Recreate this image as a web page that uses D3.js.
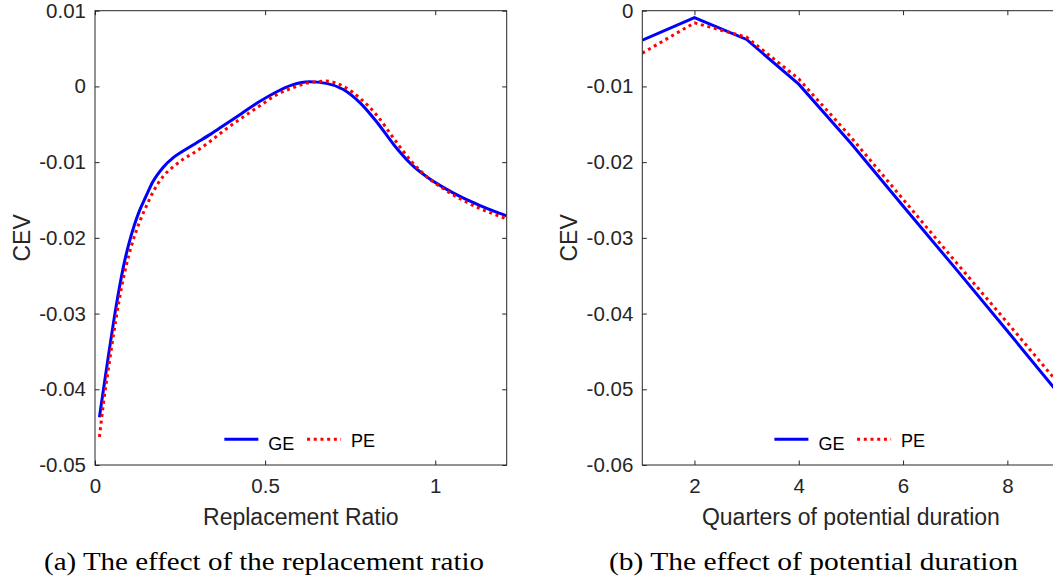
<!DOCTYPE html>
<html>
<head>
<meta charset="utf-8">
<script src="https://cdn.jsdelivr.net/npm/d3@7"></script>
<style>
  html, body { margin: 0; padding: 0; background: #fff; }
  svg { display: block; }
  .tick text { font-family: "Liberation Sans", Arial, Helvetica, sans-serif; fill: #262626; }
  .tick line { stroke: #262626; }
</style>
</head>
<body>
<div id="graphicContainer"></div>
<script>

// panel (a): replacement ratio
const replacementRatio = [0.013, 0.025, 0.04, 0.055, 0.07, 0.085, 0.1, 0.115, 0.13, 0.15, 0.17, 0.2, 0.23, 0.26, 0.3, 0.34, 0.38, 0.43, 0.48, 0.53, 0.58, 0.63, 0.68, 0.73, 0.78, 0.83, 0.88, 0.93, 0.98, 1.03, 1.08, 1.13, 1.18, 1.21]
const cevRatioGE = [-0.0437, -0.0400, -0.0354, -0.0310, -0.0270, -0.0235, -0.0207, -0.0184, -0.0165, -0.0145, -0.0126, -0.0107, -0.0094, -0.0085, -0.0074, -0.0063, -0.0051, -0.0036, -0.0021, -0.0008, 0.0002, 0.0006, 0.0004, -0.0004, -0.0022, -0.0048, -0.0078, -0.0103, -0.0121, -0.0135, -0.0147, -0.0157, -0.0166, -0.0171]
const cevRatioPE = [-0.0463, -0.0418, -0.0371, -0.0326, -0.0285, -0.0250, -0.0222, -0.0199, -0.0180, -0.0159, -0.0140, -0.0119, -0.0106, -0.0096, -0.0085, -0.0072, -0.0058, -0.0042, -0.0027, -0.0012, -0.0002, 0.0005, 0.0007, 0.0000, -0.0016, -0.0039, -0.0070, -0.0099, -0.0121, -0.0137, -0.0150, -0.0161, -0.0170, -0.0175]
const ratioXTicks = [0, 0.5, 1]
const ratioYTicks = [0.01, 0, -0.01, -0.02, -0.03, -0.04, -0.05]

// panel (b): potential duration
const quarters = [1, 2, 3, 4, 5, 6, 7, 8, 9]
const cevDurationGE = [-0.0039, -0.0009, -0.0038, -0.0097, -0.0175, -0.0258, -0.0340, -0.0423, -0.0507]
const cevDurationPE = [-0.0056, -0.0016, -0.0035, -0.0090, -0.0167, -0.0249, -0.0331, -0.0412, -0.0494]
const durationXTicks = [2, 4, 6, 8]
const durationYTicks = [0, -0.01, -0.02, -0.03, -0.04, -0.05, -0.06]

const seriesNames = ["GE", "PE"]
const seriesColors = ["#0000ff", "#ff0000"]
const seriesDash = [null, "3,3.7"]

const width = 1053
const height = 580
const axisColor = "#262626"

const svg = d3.select("#graphicContainer")
  .append("svg")
  .attr("width", width)
  .attr("height", height)

const tickFmt = d => String(d)

function drawPanel(opts) {

  let { id, left, right, top, bottom, xDomain, yDomain, xTicks, yTicks,
        xs, series, curve, xLabel, caption, captionX, captionWidth, yLabelX } = opts

  const x = d3.scaleLinear().domain(xDomain).range([left, right])
  const y = d3.scaleLinear().domain(yDomain).range([bottom, top])

  const g = svg.append("g")

  g.append("clipPath")
    .attr("id", "clip_" + id)
    .append("rect")
    .attr("x", left)
    .attr("y", top)
    .attr("width", right - left)
    .attr("height", bottom - top)

  // bottom + top axes
  g.append("g")
    .attr("transform", `translate(0,${bottom})`)
    .call(d3.axisBottom(x).tickValues(xTicks).tickFormat(tickFmt).tickSizeInner(-4.5).tickSizeOuter(0).tickPadding(13))
    .call(a => a.select(".domain").remove())
    .call(a => a.selectAll("text").style("font-size", "20.5px"))

  g.append("g")
    .attr("transform", `translate(0,${top})`)
    .call(d3.axisTop(x).tickValues(xTicks).tickFormat("").tickSizeInner(-4.5).tickSizeOuter(0))
    .call(a => a.select(".domain").remove())

  // left + right axes
  g.append("g")
    .attr("transform", `translate(${left},0)`)
    .call(d3.axisLeft(y).tickValues(yTicks).tickFormat(tickFmt).tickSizeInner(-4.5).tickSizeOuter(0).tickPadding(9))
    .call(a => a.select(".domain").remove())
    .call(a => a.selectAll("text").style("font-size", "20.5px"))

  g.append("g")
    .attr("transform", `translate(${right},0)`)
    .call(d3.axisRight(y).tickValues(yTicks).tickFormat("").tickSizeInner(-4.5).tickSizeOuter(0))
    .call(a => a.select(".domain").remove())

  g.selectAll(".tick line").attr("stroke", axisColor).attr("stroke-width", 1)

  // data lines
  const line = d3.line()
    .x((d, i) => x(xs[i]))
    .y(d => y(d))
    .curve(curve)

  series.forEach((vals, k) => {
    g.append("path")
      .datum(vals)
      .attr("clip-path", `url(#clip_${id})`)
      .attr("fill", "none")
      .attr("stroke", seriesColors[k])
      .attr("stroke-width", 3)
      .attr("stroke-dasharray", seriesDash[k])
      .attr("d", line)
  })

  // axes box
  g.append("rect")
    .attr("x", left)
    .attr("y", top)
    .attr("width", right - left)
    .attr("height", bottom - top)
    .attr("fill", "none")
    .attr("stroke", axisColor)
    .attr("stroke-width", 1)

  // legend
  const mid = (left + right) / 2 - 1.5
  const legendY = bottom - 25.7
  const legendStart = mid - 75
  const entryOffsets = [0, 82.7]
  const textShift = [10.7, 7.4]

  seriesNames.forEach((name, k) => {
    const x0 = legendStart + entryOffsets[k]
    g.append("line")
      .attr("x1", x0)
      .attr("x2", x0 + 34)
      .attr("y1", legendY)
      .attr("y2", legendY)
      .attr("stroke", seriesColors[k])
      .attr("stroke-width", 3)
      .attr("stroke-dasharray", seriesDash[k])
    g.append("text")
      .attr("x", x0 + 44)
      .attr("y", legendY + textShift[k])
      .attr("font-family", "Liberation Sans, Arial, sans-serif")
      .attr("font-size", 18)
      .attr("fill", "#000")
      .text(name)
  })

  // axis labels
  g.append("text")
    .attr("x", (left + right) / 2)
    .attr("y", bottom + 60)
    .attr("text-anchor", "middle")
    .attr("font-family", "Liberation Sans, Arial, sans-serif")
    .attr("font-size", 23)
    .attr("fill", axisColor)
    .text(xLabel)

  g.append("text")
    .attr("transform", `translate(${yLabelX},${(top + bottom) / 2}) rotate(-90)`)
    .attr("text-anchor", "middle")
    .attr("font-family", "Liberation Sans, Arial, sans-serif")
    .attr("font-size", 23)
    .attr("fill", axisColor)
    .text("CEV")

  // caption
  g.append("text")
    .attr("x", captionX)
    .attr("y", 570)
    .attr("textLength", captionWidth)
    .attr("lengthAdjust", "spacingAndGlyphs")
    .attr("font-family", "Liberation Serif, Times New Roman, serif")
    .attr("font-size", 25)
    .attr("fill", "#000")
    .text(caption)
}

drawPanel({
  id: "a",
  left: 95, right: 506.7, top: 10.7, bottom: 465,
  xDomain: [0, 1.21], yDomain: [-0.05, 0.01],
  xTicks: ratioXTicks, yTicks: ratioYTicks,
  xs: replacementRatio,
  series: [cevRatioGE, cevRatioPE],
  curve: d3.curveMonotoneX,
  xLabel: "Replacement Ratio",
  caption: "(a) The effect of the replacement ratio",
  captionX: 44, captionWidth: 440,
  yLabelX: 30
})

drawPanel({
  id: "b",
  left: 642.3, right: 1059.5, top: 10.7, bottom: 465,
  xDomain: [1, 9], yDomain: [-0.06, 0],
  xTicks: durationXTicks, yTicks: durationYTicks,
  xs: quarters,
  series: [cevDurationGE, cevDurationPE],
  curve: d3.curveLinear,
  xLabel: "Quarters of potential duration",
  caption: "(b) The effect of potential duration",
  captionX: 609, captionWidth: 409,
  yLabelX: 577
})

</script>
</body>
</html>
